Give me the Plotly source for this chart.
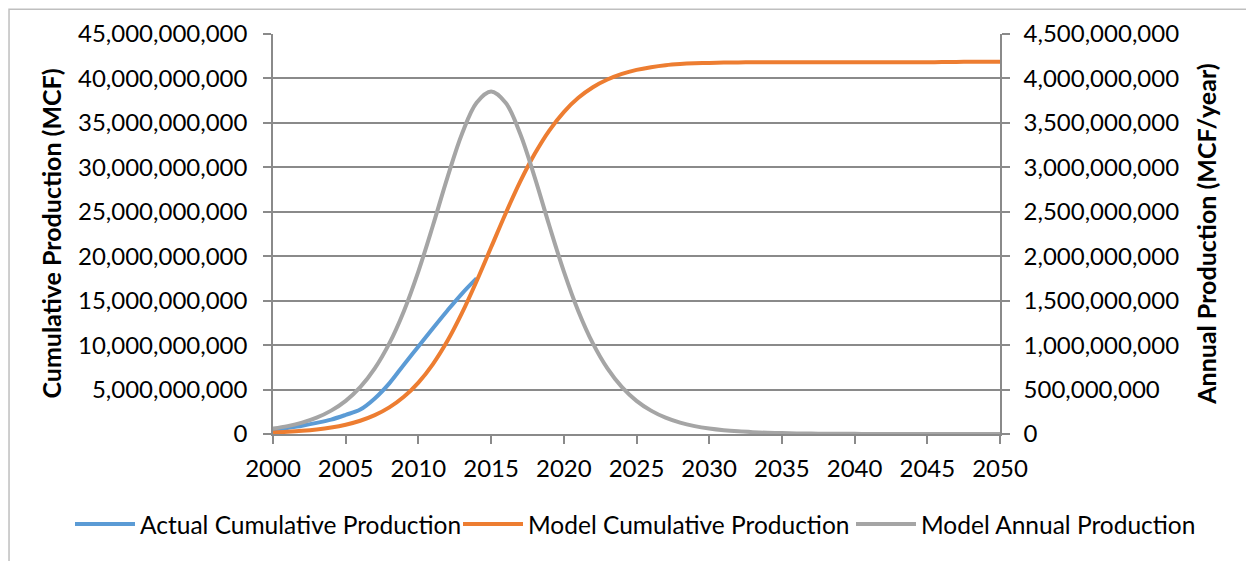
import plotly.graph_objects as go

# ---- data (values in billions of MCF) ----
years = list(range(2000, 2051))
actual_years = list(range(2000, 2015))
actual_cum_b = [0.45, 0.68, 0.93, 1.25, 1.62, 2.15, 2.75, 4.0, 5.7, 7.8,
                9.85, 11.9, 13.9, 15.8, 17.5]
model_cum_b = [0.17, 0.245, 0.353, 0.507, 0.728, 1.043, 1.49, 2.117, 2.989, 4.182,
               5.781, 7.864, 10.48, 13.62, 17.19, 21.0, 24.81, 28.38, 31.52, 34.14,
               36.22, 37.82, 39.01, 39.88, 40.51, 40.96, 41.27, 41.49, 41.62, 41.70,
               41.75, 41.78, 41.80, 41.82, 41.83, 41.83, 41.83, 41.83, 41.83, 41.83,
               41.83, 41.83, 41.83, 41.83, 41.83, 41.83, 41.84, 41.86, 41.87, 41.87,
               41.87]
model_annual_b = [0.062, 0.089, 0.128, 0.184, 0.263, 0.373, 0.527, 0.738, 1.019, 1.382,
                  1.830, 2.346, 2.887, 3.378, 3.727, 3.854, 3.727, 3.378, 2.887, 2.346,
                  1.830, 1.382, 1.019, 0.738, 0.527, 0.373, 0.263, 0.184, 0.128, 0.089,
                  0.062, 0.043, 0.030, 0.021, 0.014, 0.010, 0.007, 0.005, 0.003, 0.002,
                  0.0015, 0.001, 0.0007, 0.0005, 0.0003, 0.0002, 0.0001, 0.0001, 0.0, 0.0,
                  0.0]
x_ticks = [2000, 2005, 2010, 2015, 2020, 2025, 2030, 2035, 2040, 2045, 2050]
BILLION = 1e9

actual_cum = [v * BILLION for v in actual_cum_b]
model_cum = [v * BILLION for v in model_cum_b]
model_annual = [v * BILLION for v in model_annual_b]

FONT = "Lato"
GRID = "#8a8a8a"
TICK_SIZE = 24
LEG_SIZE = 24.5
LW = 4

fig = go.Figure()
fig.add_trace(go.Scatter(x=actual_years, y=actual_cum, mode="lines",
                         name="Actual Cumulative Production", legend="legend",
                         line=dict(color="#5B9BD5", width=LW, shape="spline")))
fig.add_trace(go.Scatter(x=years, y=model_cum, mode="lines",
                         name="Model Cumulative Production", legend="legend2",
                         line=dict(color="#ED7D31", width=LW, shape="spline")))
fig.add_trace(go.Scatter(x=years, y=model_annual, mode="lines",
                         name="Model Annual Production", yaxis="y2", legend="legend3",
                         line=dict(color="#A5A5A5", width=LW, shape="spline")))

def leg(xpx):
    return dict(orientation="h", xref="container", x=xpx / 1254, xanchor="left",
                yref="container", y=0.080, yanchor="middle",
                font=dict(family=FONT, size=LEG_SIZE), itemwidth=60,
                bgcolor="rgba(0,0,0,0)")

fig.update_layout(
    width=1254, height=561,
    margin=dict(l=265, r=262, t=26, b=135, autoexpand=False),
    paper_bgcolor="white", plot_bgcolor="white",
    font=dict(family=FONT, size=TICK_SIZE, color="black"),
    showlegend=True,
    legend=leg(62), legend2=leg(450), legend3=leg(843),
    xaxis=dict(range=[2000, 2050], tickvals=x_ticks, ticks="outside", ticklen=8,
               tickcolor=GRID, tickwidth=1.5, showgrid=False, showline=True,
               linecolor=GRID, linewidth=1.5, zeroline=False, automargin=False,
               ticklabelstandoff=4, tickfont=dict(size=TICK_SIZE)),
    yaxis=dict(range=[0, 45e9], dtick=5e9, tickformat=",", ticks="outside", ticklen=8,
               tickcolor=GRID, tickwidth=1.5, showgrid=True, gridcolor=GRID, gridwidth=1.5,
               showline=True, linecolor=GRID, linewidth=1.5, zeroline=False,
               automargin=False, ticklabelstandoff=11, tickfont=dict(size=TICK_SIZE)),
    yaxis2=dict(range=[0, 4.5e9], dtick=5e8, tickformat=",", overlaying="y", side="right",
                ticks="outside", ticklen=8, tickcolor=GRID, tickwidth=1.5, showgrid=False,
                showline=True, linecolor=GRID, linewidth=1.5, zeroline=False,
                automargin=False, ticklabelstandoff=9, tickfont=dict(size=TICK_SIZE)),
)

fig.add_annotation(text="<b>Cumulative Production (MCF)</b>", textangle=-90,
                   xref="paper", yref="paper", x=-0.306, y=0.5,
                   xanchor="center", yanchor="middle", showarrow=False,
                   font=dict(family=FONT, size=25, color="black"))
fig.add_annotation(text="<b>Annual Production (MCF/year)</b>", textangle=-90,
                   xref="paper", yref="paper", x=1.283, y=0.5,
                   xanchor="center", yanchor="middle", showarrow=False,
                   font=dict(family=FONT, size=25, color="black"))

# outer chart border
fig.add_shape(type="rect", xref="paper", yref="paper",
              x0=-0.3631, x1=1.36, y0=-0.34, y1=1.062,
              line=dict(color="#bfbfbf", width=1.5), layer="below")

fig.write_html("out.html")
